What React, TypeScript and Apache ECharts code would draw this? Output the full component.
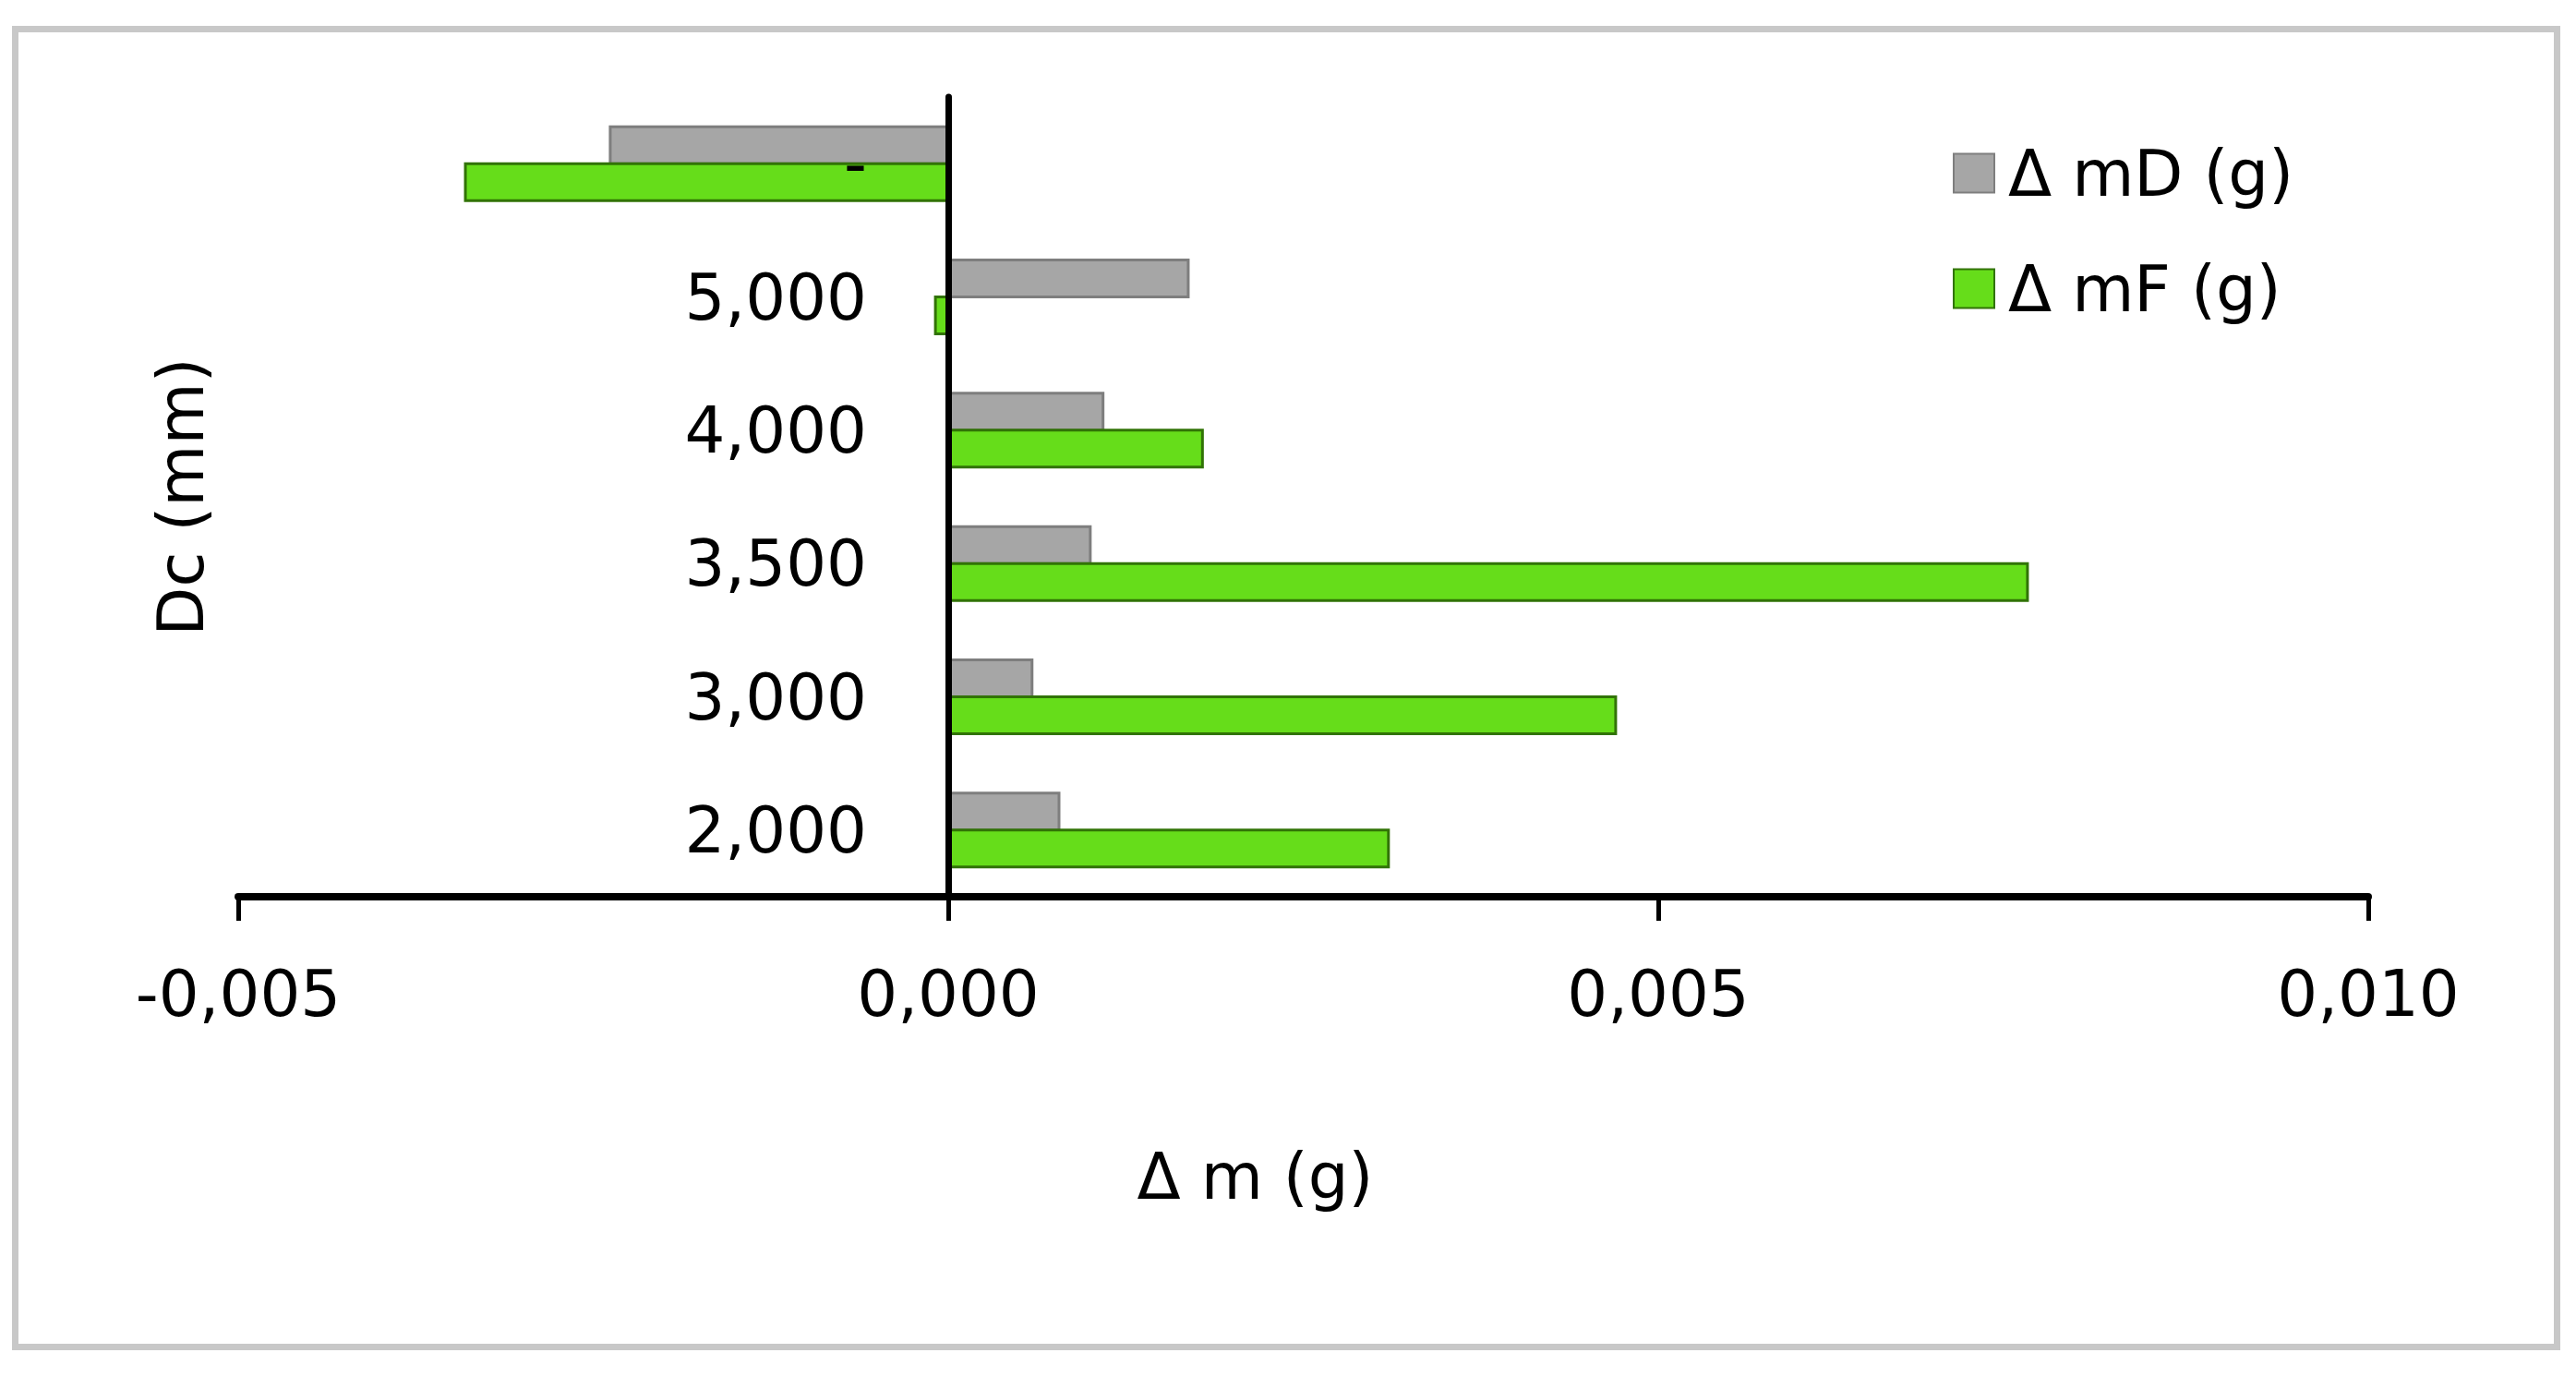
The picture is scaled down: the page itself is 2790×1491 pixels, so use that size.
import React, { useEffect, useRef } from "react";
import * as echarts from "echarts";

const categories = ["2,000", "3,000", "3,500", "4,000", "5,000", "-"];
const deltaMD = [0.00079, 0.0006, 0.00101, 0.0011, 0.0017, -0.00239];
const deltaMF = [0.00311, 0.00471, 0.00761, 0.0018, -0.0001, -0.00341];
const seriesNames = ["\u0394 mD (g)", "\u0394 mF (g)"];
const xMin = -0.005;
const xMax = 0.01;
const xInterval = 0.005;

const FONT = "DejaVu Sans";
const FS = 69;

export default function App() {
  const ref = useRef<HTMLDivElement>(null);
  useEffect(() => {
    document.body.style.margin = "0";
    const chart = echarts.init(ref.current!, null, { renderer: "svg" });
    chart.setOption({
      animation: false,
      backgroundColor: "#ffffff",
      textStyle: { fontFamily: FONT, color: "#000" },
      graphic: [
        {
          type: "rect",
          shape: { x: 16.5, y: 31.5, width: 2753, height: 1427 },
          style: { fill: "none", stroke: "#c8c8c8", lineWidth: 7 },
          z: 0,
        },
      ],
      grid: { left: 258, right: 225, top: 105, bottom: 520, containLabel: false, outerBoundsMode: "none" },
      legend: {
        orient: "vertical",
        left: 2110,
        top: 148,
        icon: "rect",
        itemWidth: 44,
        itemHeight: 42,
        itemGap: 56,
        textStyle: { fontFamily: FONT, fontSize: FS, color: "#000", padding: [0, 0, 0, 10] },
        data: seriesNames,
      },
      xAxis: {
        type: "value",
        min: xMin,
        max: xMax,
        interval: xInterval,
        name: "\u0394 m (g)",
        nameLocation: "middle",
        nameGap: 268,
        nameTextStyle: { fontFamily: FONT, fontSize: FS, color: "#000", padding: [0, 104, 0, 0] },
        axisLine: { show: true, lineStyle: { color: "#000", width: 8 } },
        axisTick: { show: true, length: 26, lineStyle: { color: "#000", width: 5 } },
        axisLabel: {
          fontFamily: FONT,
          fontSize: FS,
          color: "#000",
          margin: 70,
          formatter: (v: number) => v.toFixed(3).replace(".", ","),
        },
        splitLine: { show: false },
      },
      yAxis: {
        type: "category",
        data: categories,
        z: 5,
        name: "Dc (mm)",
        nameLocation: "middle",
        nameGap: 28,
        nameRotate: 90,
        nameTextStyle: { fontFamily: FONT, fontSize: FS, color: "#000" },
        axisLine: { show: true, onZero: true, lineStyle: { color: "#000", width: 7 } },
        axisTick: { show: false },
        axisLabel: { fontFamily: FONT, fontSize: FS, color: "#000", margin: -681, align: "right", interval: 0 },
        splitLine: { show: false },
      },
      series: [
        {
          name: seriesNames[0],
          type: "bar",
          data: deltaMD,
          barWidth: 43,
          barGap: "-7%",
          itemStyle: { color: "#a6a6a6", borderColor: "#7e7e7e", borderWidth: 3 },
        },
        {
          name: seriesNames[1],
          type: "bar",
          data: deltaMF,
          barWidth: 43,
          barGap: "-7%",
          itemStyle: { color: "#66dd1a", borderColor: "#317306", borderWidth: 3 },
        },
      ],
    });
    return () => chart.dispose();
  }, []);
  return <div ref={ref} style={{ width: 2790, height: 1491 }} />;
}
